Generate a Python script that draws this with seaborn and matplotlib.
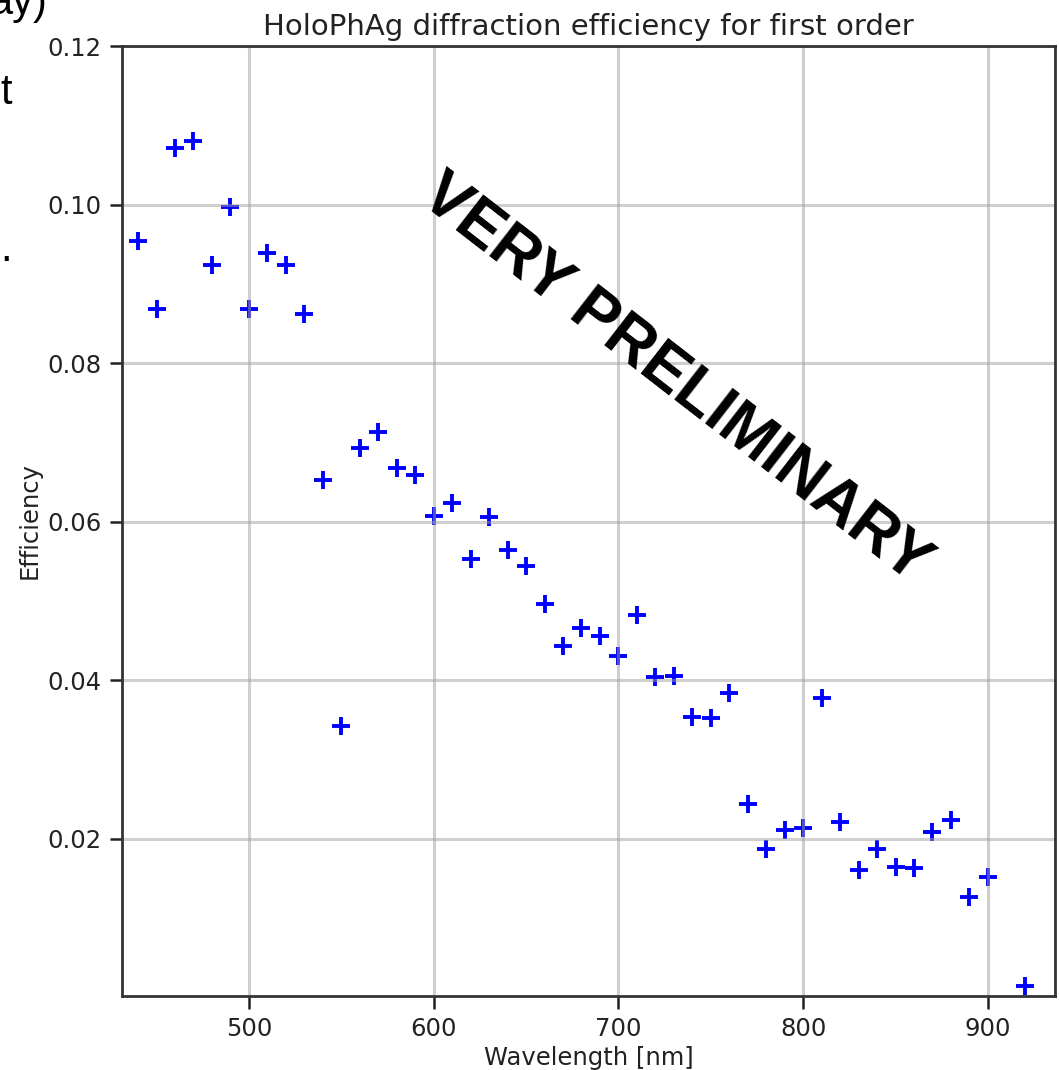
import matplotlib
matplotlib.use("Agg")
import matplotlib.pyplot as plt
import seaborn as sns
import pandas as pd

wavelength = [440, 450, 460, 470, 480, 490, 500, 510, 520, 530, 540, 550, 560, 570,
              580, 590, 600, 610, 620, 630, 640, 650, 660, 670, 680, 690, 700, 710,
              720, 730, 740, 750, 760, 770, 780, 790, 800, 810, 820, 830, 840, 850,
              860, 870, 880, 890, 900, 920]
efficiency = [0.0954, 0.0868, 0.1071, 0.1080, 0.0924, 0.0997, 0.0868, 0.0939, 0.0924,
              0.0862, 0.0653, 0.0342, 0.0693, 0.0713, 0.0668, 0.0659, 0.0607, 0.0624,
              0.0553, 0.0606, 0.0564, 0.0544, 0.0496, 0.0443, 0.0466, 0.0456, 0.0431,
              0.0482, 0.0404, 0.0406, 0.0354, 0.0353, 0.0384, 0.0244, 0.0187, 0.0211,
              0.0214, 0.0378, 0.0221, 0.0161, 0.0187, 0.0165, 0.0163, 0.0209, 0.0224,
              0.0127, 0.0152, 0.0015]
xticks = [500, 600, 700, 800, 900]
yticks = [0.02, 0.04, 0.06, 0.08, 0.10, 0.12]

df = pd.DataFrame({"Wavelength": wavelength, "Efficiency": efficiency})

plt.rcParams['font.family'] = ['DejaVu Sans']
fig = plt.figure(figsize=(10.59, 10.70), dpi=100)
ax = fig.add_axes([0.1152, 0.0692, 0.8810, 0.8878])

sns.scatterplot(data=df, x="Wavelength", y="Efficiency", marker="+", color="blue",
                s=160, linewidth=2.8, ax=ax)

ax.set_xlim(431.3, 936.3)
ax.set_ylim(0.0002, 0.12)
ax.set_xticks(xticks)
ax.set_yticks(yticks)
ax.set_yticklabels([f"{v:.2f}" for v in yticks])
ax.grid(True, color="#a0a0a0", alpha=0.5, linewidth=2.2)
ax.tick_params(labelsize=17.5, colors="#222222", length=9, width=1.8, pad=6)
for s in ax.spines.values():
    s.set_linewidth(2.0)
    s.set_color("#333333")
ax.set_xlabel("Wavelength [nm]", fontsize=17.5, color="#222222", labelpad=4)
ax.set_ylabel("Efficiency", fontsize=17.5, color="#222222", labelpad=4)
ax.set_title("HoloPhAg diffraction efficiency for first order", fontsize=21,
             color="#222222", pad=8)

ax.text(731.0, 0.0780, "VERY PRELIMINARY", rotation=-37.8, rotation_mode="anchor",
        ha="center", va="center", fontsize=46, fontweight="bold",
        family="Liberation Sans", color="black")

# cut-off slide text at left edge
fig.text(-0.010, 1.016, "ay)", fontsize=30, family="Liberation Sans", va="top", ha="left")
fig.text(0.0, 0.932, "t", fontsize=30, family="Liberation Sans", va="top", ha="left")
fig.text(0.0, 0.785, ".", fontsize=30, family="Liberation Sans", va="top", ha="left")

fig.savefig("out.png", dpi=100)
